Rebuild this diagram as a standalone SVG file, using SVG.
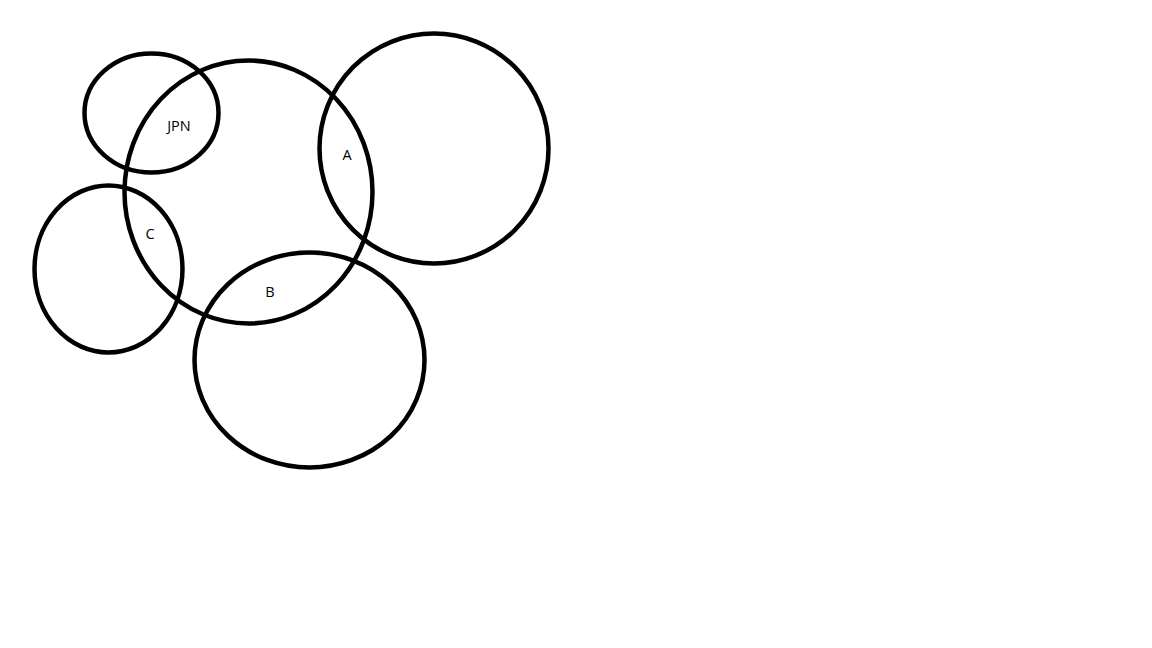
<svg xmlns="http://www.w3.org/2000/svg" width="1152" height="648" viewBox="0 0 1152 648">
<style>
.set{fill:none;stroke:#000;stroke-width:4.5}
.lbl{font-family:"Open Sans","Liberation Sans",sans-serif;font-size:14.5px;fill:#000;text-anchor:middle}
</style>
<rect width="1152" height="648" fill="#fff"/>
<g id="main"><ellipse class="set" cx="248.5" cy="192" rx="124" ry="131.5"/></g>
<g id="jpn-set"><ellipse class="set" cx="151.5" cy="113" rx="67" ry="59.5"/><text class="lbl" x="179" y="131">JPN</text></g>
<g id="c-set"><ellipse class="set" cx="108.5" cy="269" rx="74" ry="83.5"/><text class="lbl" x="150" y="239">C</text></g>
<g id="a-set"><ellipse class="set" cx="434" cy="148.5" rx="114.5" ry="115"/><text class="lbl" x="347" y="160">A</text></g>
<g id="b-set"><ellipse class="set" cx="309.5" cy="360" rx="115" ry="107.5"/><text class="lbl" x="270" y="297">B</text></g>
<g id="connectors"/>
</svg>
